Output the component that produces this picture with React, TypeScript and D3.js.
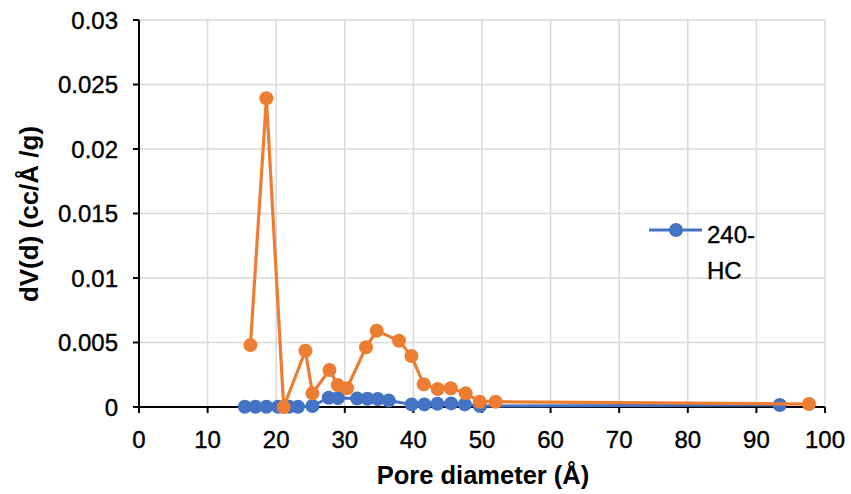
import React, { useEffect } from "react";
import * as d3 from "d3";

const blueX = [15.42, 16.97, 18.57, 20.26, 21.87, 23.18, 25.28, 27.65, 29.0, 31.8, 33.3, 34.8, 36.4, 39.75, 41.6, 43.5, 45.5, 47.5, 49.7, 93.4];
const blueY = [0.00002, 0.00002, 0.00002, 0.00002, 0.00002, 0.00002, 0.00008, 0.00072, 0.0007, 0.00066, 0.00064, 0.00062, 0.0005, 0.0002, 0.0002, 0.00025, 0.00028, 0.0002, 0.00008, 0.00015];
const orangeX = [16.24, 18.57, 21.09, 24.26, 25.28, 27.76, 28.97, 30.32, 33.09, 34.65, 37.9, 39.71, 41.5, 43.54, 45.44, 47.62, 49.66, 51.99, 97.67];
const orangeY = [0.0048, 0.02393, 0.0, 0.00436, 0.00106, 0.00287, 0.0017, 0.00145, 0.00463, 0.00591, 0.00514, 0.00395, 0.00176, 0.0014, 0.00145, 0.00106, 0.00041, 0.00041, 0.00023];
const xTicks = [0, 10, 20, 30, 40, 50, 60, 70, 80, 90, 100];
const yTicks = [0, 0.005, 0.01, 0.015, 0.02, 0.025, 0.03];
const legendLabel = ["240-", "HC"];

const W = 851, H = 494;
const left = 139, right = 825, top = 20, bottom = 407;
const FONT = "'Liberation Sans', Arial, sans-serif";

export default function App() {
  useEffect(() => {
    document.body.style.margin = "0";
  }, []);
  const x = d3.scaleLinear().domain([0, 100]).range([left, right]);
  const y = d3.scaleLinear().domain([0, 0.03]).range([bottom, top]);
  const line = d3.line<[number, number]>().x(d => x(d[0])).y(d => y(d[1]));
  const blue = blueX.map((v, i) => [v, blueY[i]] as [number, number]);
  const orange = orangeX.map((v, i) => [v, orangeY[i]] as [number, number]);
  const BLUE = "#4472C4", ORANGE = "#ED7D31";
  const tickStyle = { fontSize: 24, fill: "#000", stroke: "#000", strokeWidth: 0.4 } as const;
  return (
    <svg width={W} height={H} style={{ display: "block", background: "#fff" }} fontFamily={FONT}>
      {xTicks.filter(t => t > 0).map(t => (
        <line key={"gx" + t} x1={x(t)} x2={x(t)} y1={top} y2={bottom} stroke="#d9d9d9" strokeWidth={1.5} />
      ))}
      {yTicks.filter(t => t > 0).map(t => (
        <line key={"gy" + t} x1={left} x2={right} y1={y(t)} y2={y(t)} stroke="#d9d9d9" strokeWidth={1.5} />
      ))}
      <line x1={left} x2={left} y1={top} y2={bottom} stroke="#000" strokeWidth={2} />
      <line x1={left} x2={right} y1={bottom} y2={bottom} stroke="#000" strokeWidth={2} />
      {yTicks.map(t => (
        <g key={"yt" + t}>
          <line x1={left - 6} x2={left} y1={y(t)} y2={y(t)} stroke="#000" strokeWidth={2} />
          <text x={left - 21} y={y(t)} dy="0.36em" textAnchor="end" {...tickStyle}>
            {String(t)}
          </text>
        </g>
      ))}
      {xTicks.map(t => (
        <g key={"xt" + t}>
          <line x1={x(t)} x2={x(t)} y1={bottom} y2={bottom + 6} stroke="#000" strokeWidth={2} />
          <text x={x(t)} y={448} textAnchor="middle" {...tickStyle}>
            {String(t)}
          </text>
        </g>
      ))}
      <text x={483} y={484} textAnchor="middle" fontSize={25.5} fontWeight={700} fill="#000">
        Pore diameter (Å)
      </text>
      <text transform={`translate(38,${214}) rotate(-90)`} textAnchor="middle" fontSize={26} fontWeight={700} fill="#000">
        dV(d) (cc/Å /g)
      </text>
      <path d={line(blue) || ""} fill="none" stroke={BLUE} strokeWidth={3} />
      {blue.map((d, i) => (
        <circle key={"b" + i} cx={x(d[0])} cy={y(d[1])} r={7} fill={BLUE} />
      ))}
      <path d={line(orange) || ""} fill="none" stroke={ORANGE} strokeWidth={3.2} />
      {orange.map((d, i) => (
        <circle key={"o" + i} cx={x(d[0])} cy={y(d[1])} r={7} fill={ORANGE} />
      ))}
      <line x1={649} x2={702} y1={230} y2={230} stroke={BLUE} strokeWidth={3} />
      <circle cx={676} cy={230} r={7} fill={BLUE} />
      {legendLabel.map((s, i) => (
        <text key={s} x={707} y={243 + i * 36} {...tickStyle}>
          {s}
        </text>
      ))}
    </svg>
  );
}
